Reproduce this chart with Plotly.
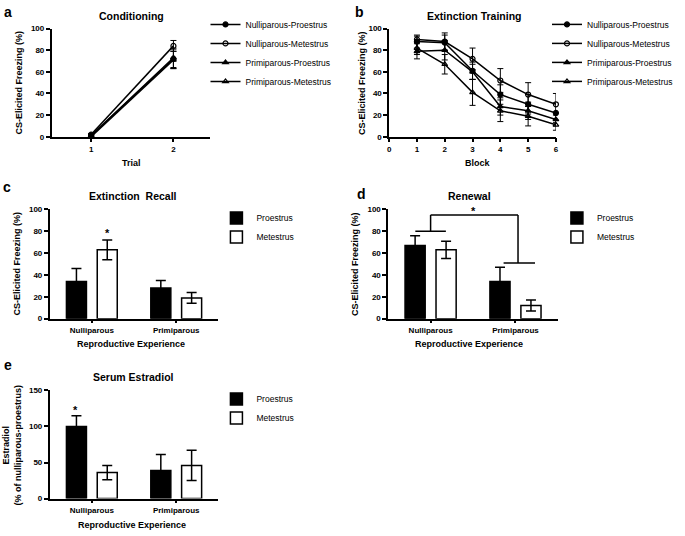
import plotly.graph_objects as go

W, H = 685, 536

# ---- data ----
series_names = ["Nulliparous-Proestrus", "Nulliparous-Metestrus",
                "Primiparous-Proestrus", "Primiparous-Metestrus"]

trials = [1, 2]
cond_mean = [[1, 72], [2, 84], [0, 71], [1, 73]]
cond_err = [[1, 9], [1, 5], [1, 8], [1, 9]]

blocks = [1, 2, 3, 4, 5, 6]
ext_mean = [[88, 87, 61, 39, 30, 22],
            [90, 88, 72, 52, 39, 30],
            [79, 80, 60, 28, 24, 16],
            [82, 67, 41, 24, 19, 11]]
ext_err = [[6, 7, 8, 9, 9, 9],
           [3, 8, 10, 11, 11, 10],
           [7, 9, 7, 8, 8, 6],
           [6, 9, 12, 10, 9, 5]]

groups = ["Nulliparous", "Primiparous"]
states = ["Proestrus", "Metestrus"]

recall_pro = [34, 28]
recall_pro_err = [12, 7]
recall_met = [63, 19]
recall_met_err = [9, 5]

renewal_pro = [67, 34]
renewal_pro_err = [9, 13]
renewal_met = [63, 12]
renewal_met_err = [8, 5]

estradiol_pro = [100, 39]
estradiol_pro_err = [15, 22]
estradiol_met = [36, 46]
estradiol_met_err = [10, 21]

# significance bracket levels in panel d
bracket_low_left = 80
bracket_top = 95
bracket_low_right = 51

FONT = "Liberation Sans, Arial, sans-serif"


def fx(px):
    return px / W


def fy(py):
    return 1 - py / H


fig = go.Figure()

symbols = ["circle", "circle-open", "triangle-up", "triangle-up-open"]
sizes = [5, 5, 5, 5]

# ---- panel a / b: line plots ----
for i, name in enumerate(series_names):
    fig.add_trace(go.Scatter(
        x=trials, y=cond_mean[i], name=name, mode="lines+markers",
        line=dict(color="black", width=1.5),
        marker=dict(symbol=symbols[i], size=sizes[i], color="black",
                    line=dict(color="black", width=1.2)),
        error_y=dict(type="data", array=cond_err[i], color="black",
                     thickness=1, width=3),
        cliponaxis=False, xaxis="x", yaxis="y", legend="legend"))

for i, name in enumerate(series_names):
    fig.add_trace(go.Scatter(
        x=blocks, y=ext_mean[i], name=name, mode="lines+markers",
        line=dict(color="black", width=1.5),
        marker=dict(symbol=symbols[i], size=sizes[i], color="black",
                    line=dict(color="black", width=1.2)),
        error_y=dict(type="data", array=ext_err[i], color="black",
                     thickness=1, width=3),
        cliponaxis=False, xaxis="x2", yaxis="y2", legend="legend2"))


# ---- panels c / d / e: bars ----
def add_bars(pro, pro_err, met, met_err, ax, leg):
    fig.add_trace(go.Bar(
        x=groups, y=pro, name=states[0],
        marker=dict(color="black", line=dict(color="black", width=1.5)),
        error_y=dict(type="data", array=pro_err, color="black",
                     thickness=1.5, width=5),
        xaxis="x" + ax, yaxis="y" + ax, legend=leg))
    fig.add_trace(go.Bar(
        x=groups, y=met, name=states[1],
        marker=dict(color="white", line=dict(color="black", width=1.5)),
        error_y=dict(type="data", array=met_err, color="black",
                     thickness=1.5, width=5),
        xaxis="x" + ax, yaxis="y" + ax, legend=leg))


add_bars(recall_pro, recall_pro_err, recall_met, recall_met_err, "3", "legend3")
add_bars(renewal_pro, renewal_pro_err, renewal_met, renewal_met_err, "4", "legend4")
add_bars(estradiol_pro, estradiol_pro_err, estradiol_met, estradiol_met_err, "5", "legend5")

tickfont = dict(family=FONT, size=8, color="black", weight="bold")
titlefont = dict(family=FONT, size=9, color="black", weight="bold")

axis_common = dict(showline=True, linecolor="black", linewidth=1.5,
                   ticks="outside", ticklen=4, tickwidth=1.5, tickcolor="black",
                   showgrid=False, zeroline=False, tickfont=tickfont)

ya_dom = [fy(135), fy(25)]
ycd_dom = [fy(320), fy(209)]
ye_dom = [fy(503), fy(393)]

fig.update_layout(
    width=W, height=H, margin=dict(l=0, r=0, t=0, b=0),
    plot_bgcolor="white", paper_bgcolor="white",
    barmode="group", bargap=0.27, bargroupgap=0.35,
    xaxis=dict(axis_common, domain=[fx(50), fx(210)], range=[0.52, 2.45],
               tickvals=trials, anchor="y"),
    yaxis=dict(axis_common, domain=ya_dom, range=[0, 100], dtick=20, anchor="x"),
    xaxis2=dict(axis_common, domain=[fx(390), fx(558)], range=[0, 6], dtick=1,
                anchor="y2"),
    yaxis2=dict(axis_common, domain=ya_dom, range=[0, 100], dtick=20, anchor="x2"),
    xaxis3=dict(axis_common, domain=[fx(48), fx(218)], range=[-0.5, 1.5],
                anchor="y3", ticklen=3),
    yaxis3=dict(axis_common, domain=ycd_dom, range=[0, 100], dtick=20, anchor="x3"),
    xaxis4=dict(axis_common, domain=[fx(389), fx(560)], range=[-0.5, 1.5],
                anchor="y4", ticklen=3),
    yaxis4=dict(axis_common, domain=ycd_dom, range=[0, 100], dtick=20, anchor="x4"),
    xaxis5=dict(axis_common, domain=[fx(48), fx(218)], range=[-0.5, 1.5],
                anchor="y5", ticklen=3),
    yaxis5=dict(axis_common, domain=ye_dom, range=[0, 150], dtick=50, anchor="x5"),
)

legfont = dict(family=FONT, size=8.5, color="black")
for key, lx, ly in [("legend", 205, 6), ("legend2", 549, 6),
                    ("legend3", 216, 203), ("legend4", 559, 203),
                    ("legend5", 216, 387)]:
    fig.update_layout({key: dict(x=fx(lx), y=fy(ly), xanchor="left", yanchor="top",
                                 font=legfont, bgcolor="rgba(0,0,0,0)",
                                 itemwidth=30, tracegroupgap=0)})

# ---- titles, axis titles, panel letters, stars ----
ann = []
for text, x, y in [("Conditioning", 130, 12), ("Extinction Training", 476, 12),
                   ("Extinction  Recall", 132, 195), ("Renewal", 471, 195),
                   ("Serum Estradiol", 132, 379)]:
    ann.append(dict(text=text, x=fx(x), y=fy(y), xref="paper", yref="paper",
                    showarrow=False, xanchor="center", yanchor="middle",
                    font=dict(family=FONT, size=10.5, color="black", weight="bold")))
for text, x, y in [("Trial", 130, 162), ("Block", 479, 162),
                   ("Reproductive Experience", 130, 346),
                   ("Reproductive Experience", 470, 346),
                   ("Reproductive Experience", 131, 530)]:
    ann.append(dict(text=text, x=fx(x), y=fy(y), xref="paper", yref="paper",
                    showarrow=False, xanchor="center", yanchor="middle",
                    font=titlefont))
for text, x, y in [("CS-Elicited Freezing (%)", 17, 80),
                   ("CS-Elicited Freezing (%)", 362, 80),
                   ("CS-Elicited Freezing (%)", 15, 264),
                   ("CS-Elicited Freezing (%)", 355, 264),
                   ("Estradiol<br>(% of nulliparous-proestrus)", 11, 448)]:
    ann.append(dict(text=text, x=fx(x), y=fy(y), xref="paper", yref="paper",
                    showarrow=False, xanchor="center", yanchor="middle",
                    textangle=-90, font=titlefont))
for text, x, y in [("a", 6, 8), ("b", 360, 8), ("c", 5, 186), ("d", 362, 193),
                   ("e", 6, 367)]:
    ann.append(dict(text=text, x=fx(x), y=fy(y), xref="paper", yref="paper",
                    showarrow=False, xanchor="center", yanchor="middle",
                    font=dict(family=FONT, size=14, color="black", weight="bold")))

starfont = dict(family=FONT, size=11, color="black", weight="bold")
ann.append(dict(text="*", x=0, y=recall_met[0] + recall_met_err[0] + 3,
                xref="x3", yref="y3", xshift=16, yshift=-4, showarrow=False,
                yanchor="bottom", font=starfont))
ann.append(dict(text="*", x=0, y=estradiol_pro[0] + estradiol_pro_err[0] + 3,
                xref="x5", yref="y5", xshift=-16, yshift=-5, showarrow=False,
                yanchor="bottom", font=starfont))
ann.append(dict(text="*", x=0.5, y=bracket_top, xref="x4", yref="y4",
                yshift=-4, showarrow=False, yanchor="bottom", font=starfont))
fig.update_layout(annotations=ann)

# bracket for panel d
line = dict(color="black", width=1.5)
shapes = [
    dict(type="line", xref="x4", yref="y4", x0=-0.18, x1=0.18,
         y0=bracket_low_left, y1=bracket_low_left, line=line),
    dict(type="line", xref="x4", yref="y4", x0=0, x1=0,
         y0=bracket_low_left, y1=bracket_top, line=line),
    dict(type="line", xref="x4", yref="y4", x0=0, x1=1.03,
         y0=bracket_top, y1=bracket_top, line=line),
    dict(type="line", xref="x4", yref="y4", x0=1.03, x1=1.03,
         y0=bracket_top, y1=bracket_low_right, line=line),
    dict(type="line", xref="x4", yref="y4", x0=0.86, x1=1.23,
         y0=bracket_low_right, y1=bracket_low_right, line=line),
]
fig.update_layout(shapes=shapes)

fig.write_html("out.html", config={"displayModeBar": False},
               post_script="document.body.style.margin='0px';")
